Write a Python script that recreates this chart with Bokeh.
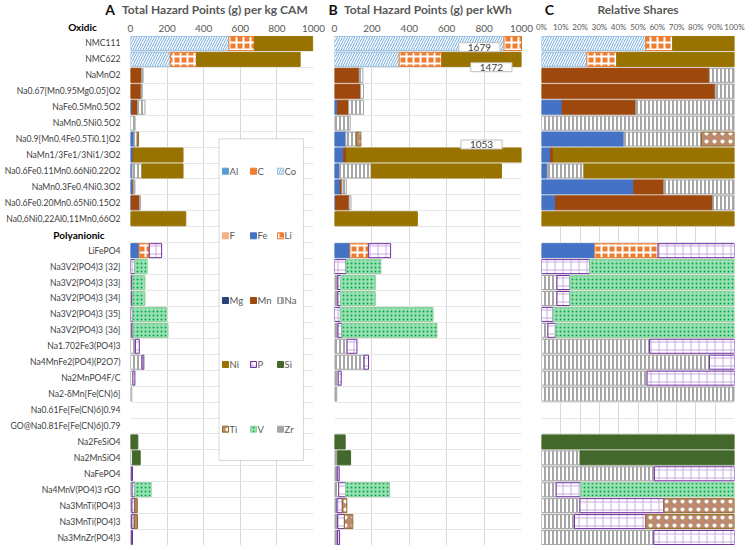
import numpy as np
from bokeh.plotting import figure
from bokeh.models import (Range1d, FixedTicker, ColumnDataSource, Label, BoxAnnotation,
                          NumeralTickFormatter)
from bokeh.core.properties import value
from bokeh.layouts import row, column
from bokeh.embed import file_html
from bokeh.resources import INLINE

# ---------------- data ----------------
compounds = [
    "NMC111", "NMC622", "NaMnO2", "Na0.67[Mn0.95Mg0.05]O2", "NaFe0.5Mn0.5O2",
    "NaMn0.5Ni0.5O2", "Na0.9[Mn0.4Fe0.5Ti0.1]O2", "NaMn1/3Fe1/3Ni1/3O2",
    "Na0.6Fe0.11Mn0.66Ni0.22O2", "NaMn0.3Fe0.4Ni0.3O2", "Na0.6Fe0.20Mn0.65Ni0.15O2",
    "Na0,6Ni0,22Al0,11Mn0,66O2", "Polyanionic", "LiFePO4", "Na3V2(PO4)3 [32]",
    "Na3V2(PO4)3 [33]", "Na3V2(PO4)3 [34]", "Na3V2(PO4)3 [35]", "Na3V2(PO4)3 [36]",
    "Na1.702Fe3(PO4)3", "Na4MnFe2(PO4)(P2O7)", "Na2MnPO4F/C", "Na2-δMn[Fe(CN)6]",
    "Na0.61Fe[Fe(CN)6]0.94", "GO@Na0.81Fe[Fe(CN)6]0.79", "Na2FeSiO4", "Na2MnSiO4",
    "NaFePO4", "Na4MnV(PO4)3 rGO", "Na3MnTi(PO4)3", "Na3MnTi(PO4)3", "Na3MnZr(PO4)3",
]
group_top = "Oxidic"
group_rows = {12: "Polyanionic"}

elements = ["Al", "C", "Co", "F", "Fe", "Li", "Mg", "Mn", "Na", "Ni", "P", "Si", "Ti", "V", "Zr"]

# total hazard points (g) per kg CAM (panel A) and per kWh (panel B)
total_per_kg = [996, 927, 69, 64, 79, 25, 44, 287, 287, 24, 55, 302, 0, 170, 91, 79,
                79, 196, 205, 48, 73, 24, 7, 0, 0, 40, 53, 11, 113, 37, 38, 11]
total_per_kwh = [1679, 1472, 152, 155, 155, 84, 141, 1053, 893, 63, 88, 443, 0, 300, 248, 218,
                 218, 527, 548, 120, 182, 36, 12, 0, 0, 57, 86, 25, 295, 66, 98, 27]

# relative shares per element (panel C)
share_Al = [0] * 32
share_C = [0] * 32
share_F = [0] * 32
share_Mg = [0] * 32
share_Zr = [0] * 32
share_Co = [0.54, 0.235, 0, 0, 0, 0, 0, 0,   0, 0, 0, 0, 0, 0, 0, 0,
            0, 0, 0, 0, 0, 0, 0, 0,   0, 0, 0, 0, 0, 0, 0, 0]
share_Li = [0.14, 0.155, 0, 0, 0, 0, 0, 0,   0, 0, 0, 0, 0, 0.328, 0, 0,
            0, 0, 0, 0, 0, 0, 0, 0,   0, 0, 0, 0, 0, 0, 0, 0]
share_Ni = [0.32, 0.61, 0, 0, 0, 0, 0, 0.939,   0.78, 0, 0, 1.0, 0, 0, 0, 0,
            0, 0, 0, 0, 0, 0, 0, 0,   0, 0, 0, 0, 0, 0, 0, 0]
share_Fe = [0, 0, 0, 0, 0.107, 0, 0.427, 0.047,   0.03, 0.478, 0.073, 0, 0, 0.276, 0, 0,
            0, 0, 0, 0, 0, 0, 0, 0,   0, 0, 0, 0, 0, 0, 0, 0]
share_Mn = [0, 0, 0.87, 0.90, 0.382, 0, 0, 0.014,   0, 0.156, 0.815, 0, 0, 0, 0, 0,
            0, 0, 0, 0, 0, 0, 0, 0,   0, 0, 0, 0, 0, 0, 0, 0]
share_Na = [0, 0, 0.13, 0.10, 0.511, 1.0, 0.402, 0,   0.19, 0.366, 0.112, 0, 0, 0, 0, 0.08,
            0.08, 0, 0.033, 0.56, 0.87, 0.547, 1.0, 0,   0, 0, 0.2, 0.585, 0.076, 0.199, 0.171, 0.582]
share_P = [0, 0, 0, 0, 0, 0, 0, 0,   0, 0, 0, 0, 0, 0.396, 0.25, 0.067,
           0.067, 0.06, 0.04, 0.44, 0.13, 0.453, 0, 0,   0, 0, 0, 0.415, 0.126, 0.435, 0.37, 0.418]
share_Si = [0, 0, 0, 0, 0, 0, 0, 0,   0, 0, 0, 0, 0, 0, 0, 0,
            0, 0, 0, 0, 0, 0, 0, 0,   0, 1.0, 0.8, 0, 0, 0, 0, 0]
share_Ti = [0, 0, 0, 0, 0, 0, 0.171, 0,   0, 0, 0, 0, 0, 0, 0, 0,
            0, 0, 0, 0, 0, 0, 0, 0,   0, 0, 0, 0, 0, 0.366, 0.459, 0]
share_V = [0, 0, 0, 0, 0, 0, 0, 0,   0, 0, 0, 0, 0, 0, 0.75, 0.853,
           0.853, 0.94, 0.927, 0, 0, 0, 0, 0,   0, 0, 0, 0, 0.798, 0, 0, 0]

shares = {"Al": share_Al, "C": share_C, "Co": share_Co, "F": share_F, "Fe": share_Fe,
          "Li": share_Li, "Mg": share_Mg, "Mn": share_Mn, "Na": share_Na, "Ni": share_Ni,
          "P": share_P, "Si": share_Si, "Ti": share_Ti, "V": share_V, "Zr": share_Zr}

x_ticks_abs = [0, 200, 400, 600, 800, 1000]
x_ticks_rel = [0, 0.1, 0.2, 0.3, 0.4, 0.5, 0.6, 0.7, 0.8, 0.9, 1.0]

# ---------------- layout constants (pixels from the top-left of the layout) ----------------
FONT = "Lato"
N = len(compounds)
HEADER_H = 17            # title strip 0 -> 17
AXIS_BAND = 18           # tick-label band 17 -> 35
FRAME_TOP = HEADER_H + AXIS_BAND
FRAME_H = 510            # 35 -> 545
ROW_H = FRAME_H / N
LABEL_W = 127
WIDTHS = (LABEL_W, 198, 209, 214)


def ydata(py):
    return -0.5 + (py - FRAME_TOP) / ROW_H


def style(e):
    return {
        "Al": dict(fill_color="#5b9bd5", line_color="#5b9bd5"),
        "C": dict(fill_color="#ed7d31", line_color="#ed7d31"),
        "Co": dict(fill_color="white", line_color="#9dc3e6", hatch_pattern="/",
                   hatch_color="#6fa8dc", hatch_scale=5, hatch_weight=1),
        "F": dict(fill_color="#f4b183", line_color="#f4b183"),
        "Fe": dict(fill_color="#4472c4", line_color="#4472c4"),
        "Li": dict(fill_color="#ed7d31", line_color="#ed7d31", hatch_pattern="+",
                   hatch_color="white", hatch_scale=7, hatch_weight=2),
        "Mg": dict(fill_color="#264478", line_color="#264478"),
        "Mn": dict(fill_color="#9e480e", line_color="#9e480e"),
        "Na": dict(fill_color="white", line_color="#a6a6a6", hatch_pattern="|",
                   hatch_color="#a6a6a6", hatch_scale=4, hatch_weight=2),
        "Ni": dict(fill_color="#997300", line_color="#997300"),
        "P": dict(fill_color="white", line_color="#7030a0", hatch_pattern="+",
                  hatch_color="#c9ace3", hatch_scale=8, hatch_weight=1),
        "Si": dict(fill_color="#43682b", line_color="#43682b"),
        "Ti": dict(fill_color="#bb8b6d", line_color="#8f6a2a", hatch_pattern=".",
                   hatch_color="white", hatch_scale=8, hatch_weight=1),
        "V": dict(fill_color="#9be0b3", line_color="#8fd19e", hatch_pattern=".",
                  hatch_color="#00a84c", hatch_scale=4, hatch_weight=1),
        "Zr": dict(fill_color="#a5a5a5", line_color="#a5a5a5"),
    }[e]


def base(p, standoff):
    p.outline_line_color = None
    ax = p.xaxis
    ax.axis_line_color = None
    ax.major_tick_line_color = None
    ax.minor_tick_line_color = None
    ax.major_tick_out = 0
    ax.major_tick_in = 0
    ax.minor_tick_out = 0
    ax.minor_tick_in = 0
    ax.major_label_standoff = standoff
    ax.major_label_text_font = FONT
    return p


def panel_fig(fw, bl, br, x_end, ticks, tick_size):
    p = figure(frame_width=fw, frame_height=FRAME_H, x_range=Range1d(0, x_end),
               y_range=Range1d(N - 0.5, -0.5), x_axis_location="above", y_axis_location=None,
               title=None, output_backend="svg", toolbar_location=None,
               min_border_left=bl, min_border_right=br, min_border_top=AXIS_BAND,
               min_border_bottom=0)
    base(p, 4)
    p.xaxis.ticker = FixedTicker(ticks=ticks)
    p.xaxis.major_label_text_font_size = tick_size
    p.xaxis.major_label_text_color = "#595959"
    p.xgrid.ticker = FixedTicker(ticks=ticks)
    p.xgrid.grid_line_color = "#d9d9d9"
    p.ygrid.ticker = FixedTicker(ticks=[i - 0.5 for i in range(N + 1)])
    p.ygrid.grid_line_color = "#e6e6e6"
    return p


pA = panel_fig(183, 3, 12, 1000, x_ticks_abs, "10px")   # 127 -> 325 (frame 130 -> 313)
pB = panel_fig(187, 9, 13, 1000, x_ticks_abs, "10px")   # 325 -> 534 (frame 334 -> 521)
pC = panel_fig(193, 7, 14, 1.0, x_ticks_rel, "8px")     # 534 -> 748 (frame 541 -> 734)
pC.xaxis.formatter = NumeralTickFormatter(format="0%")

# ---------------- stacked bars ----------------
S = np.array([shares[e] for e in elements], dtype=float)
colsum = S.sum(axis=0)
colsum[colsum == 0] = 1.0
S = S / colsum
values = {"A": S * np.array(total_per_kg, float),
          "B": S * np.array(total_per_kwh, float),
          "C": S}

for p, key in ((pA, "A"), (pB, "B"), (pC, "C")):
    V = values[key]
    cum = np.zeros(N)
    for k, e in enumerate(elements):
        v = V[k]
        idx = np.nonzero(v > 0)[0]
        src = ColumnDataSource(dict(y=idx.tolist(), left=cum[idx].tolist(),
                                    right=(cum[idx] + v[idx]).tolist()))
        p.hbar(y="y", left="left", right="right", height=0.88, line_width=1,
               source=src, **style(e))
        cum = cum + v

# ---------------- category label column ----------------
pL = figure(frame_width=LABEL_W, frame_height=FRAME_H, x_range=Range1d(0, LABEL_W),
            y_range=Range1d(N - 0.5, -0.5), x_axis_location="above", y_axis_location=None,
            title=None, output_backend="svg", toolbar_location=None,
            min_border_left=0, min_border_right=0, min_border_top=AXIS_BAND,
            min_border_bottom=0)
base(pL, 3)
pL.xgrid.visible = False
pL.ygrid.visible = False
pL.xaxis.ticker = FixedTicker(ticks=[82])
pL.xaxis.major_label_overrides = {82: group_top}
pL.xaxis.major_label_text_font_size = "10px"
pL.xaxis.major_label_text_font_style = "bold"
pL.xaxis.major_label_text_color = "black"

name_idx = [i for i in range(N) if i not in group_rows]
pL.text(x=120, y=name_idx, text=[compounds[i] for i in name_idx], text_align="right",
        text_baseline="middle", text_font=value(FONT), text_font_size="8.6px",
        text_color="#404040")
pL.text(x=78.5, y=list(group_rows.keys()), text=list(group_rows.values()),
        text_align="center", text_baseline="middle", text_font=value(FONT),
        text_font_size="10px", text_font_style="bold", text_color="black")

# ---------------- title strip ----------------
TOTAL_W = sum(WIDTHS)
pH = figure(frame_width=TOTAL_W, frame_height=HEADER_H, x_range=Range1d(0, TOTAL_W),
            y_range=Range1d(HEADER_H, 0), x_axis_location=None, y_axis_location=None,
            title=None, output_backend="svg", toolbar_location=None, min_border=0)
pH.outline_line_color = None
pH.xgrid.visible = False
pH.ygrid.visible = False
titles = [("A", 109.5, "Total Hazard Points (g) per kg CAM", 214.5),
          ("B", 332.5, "Total Hazard Points (g) per kWh", 427.5),
          ("C", 549.0, "Relative Shares", 637.5)]
for letter, lx, text, tx in titles:
    pH.add_layout(Label(x=lx, y=8.8, text=letter, text_align="center",
                        text_baseline="middle", text_font=FONT, text_font_style="bold",
                        text_font_size="14px", text_color="#111111"))
    pH.add_layout(Label(x=tx, y=9, text=text, text_align="center",
                        text_baseline="middle", text_font=FONT, text_font_style="bold",
                        text_font_size="12px", text_color="#595959"))

# ---------------- callouts for clipped bars (panel B) ----------------
callout_pos = {0: (775, ydata(46.7)), 1: (839, ydata(66.7)), 7: (786, ydata(144))}
for i, (cx, cy) in callout_pos.items():
    pB.add_layout(Label(x=cx, y=cy, text=str(total_per_kwh[i]), text_align="center",
                        text_baseline="middle", text_font=FONT, text_font_size="10px",
                        text_color="#404040", background_fill_color="white",
                        border_line_color="#bfbfbf", border_line_width=1, padding=(9, 1)))

# ---------------- element key (panel A) ----------------
pA.add_layout(BoxAnnotation(left=484, right=945, top=ydata(138.3), bottom=ydata(460),
                            fill_color="white", fill_alpha=1.0, line_color="#7f7f7f",
                            line_width=1, level="underlay"))
key_cols = [519, 672, 820]                      # swatch centres (panel-A data units)
key_rows = [ydata(py) for py in (170.7, 235.3, 300, 364, 428.7)]
for k, e in enumerate(elements):
    kx, ky = key_cols[k % 3], key_rows[k // 3]
    pA.rect(x=[kx], y=[ky], width=6, height=6, width_units="screen",
            height_units="screen", line_width=1, **style(e))
    pA.text(x=[kx + 22], y=[ky], text=[e], text_align="left", text_baseline="middle",
            text_font=value(FONT), text_font_size="9.5px", text_color="#595959")

layout = column(pH, row(pL, pA, pB, pC))
open("out.html", "w").write(file_html(layout, INLINE))
